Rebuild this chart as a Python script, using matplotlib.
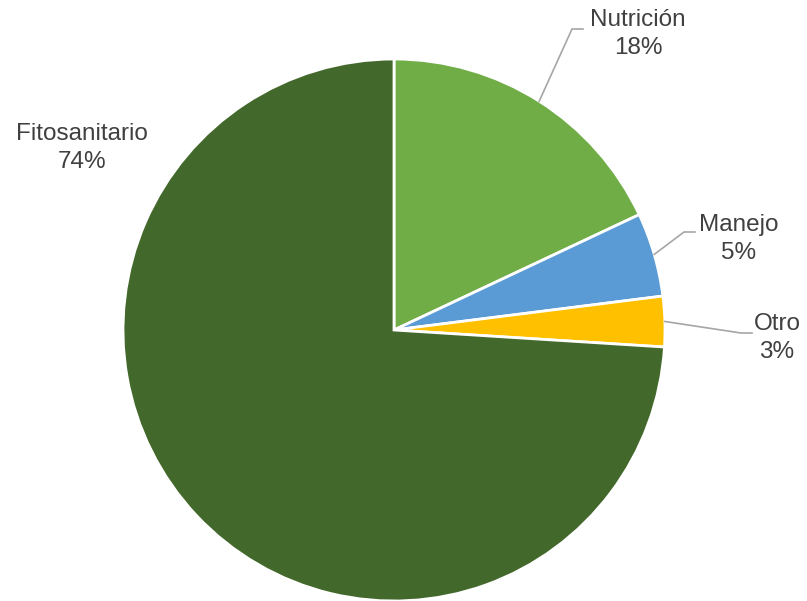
import numpy as np
import matplotlib
matplotlib.use("Agg")
import matplotlib.pyplot as plt

labels = ["Nutrición", "Manejo", "Otro", "Fitosanitario"]
values = [18, 5, 3, 74]
colors = ["#70AD47", "#5B9BD5", "#FFC000", "#43682B"]

# label text centres and leader-line elbows, in pixels from top-left
label_pos = [(638, 34), (739, 239), (777, 338), (82, 148)]
elbows = [(572, 29), (684, 232), (741, 333), None]

W, H = 807, 601
fig = plt.figure(figsize=(W / 100, H / 100), dpi=100)
ax = fig.add_axes([0, 0, 1, 1])

cx, cy, r = 394, H - 330, 271
wedges, _ = ax.pie(values, colors=colors, startangle=90, counterclock=False,
                   center=(cx, cy), radius=r, frame=True,
                   wedgeprops=dict(edgecolor="white", linewidth=2))
ax.set_xlim(0, W)
ax.set_ylim(0, H)
ax.set_aspect("equal")
ax.axis("off")

total = sum(values)
cum = 0
for lab, v, pos, elb in zip(labels, values, label_pos, elbows):
    mid = (cum + v / 2) / total * 2 * np.pi
    cum += v
    ax.text(pos[0], H - pos[1], f"{lab}\n{v}%", ha="center", va="center",
            fontsize=17.5, color="#404040", family="Liberation Sans",
            linespacing=1.3)
    if elb is None:
        continue
    sx = cx + r * np.sin(mid)
    sy = cy + r * np.cos(mid)
    ex, ey = elb[0], H - elb[1]
    ax.plot([sx, ex, ex + 11], [sy, ey, ey], color="#A6A6A6", lw=1.2)

fig.savefig("out.png", dpi=100)
